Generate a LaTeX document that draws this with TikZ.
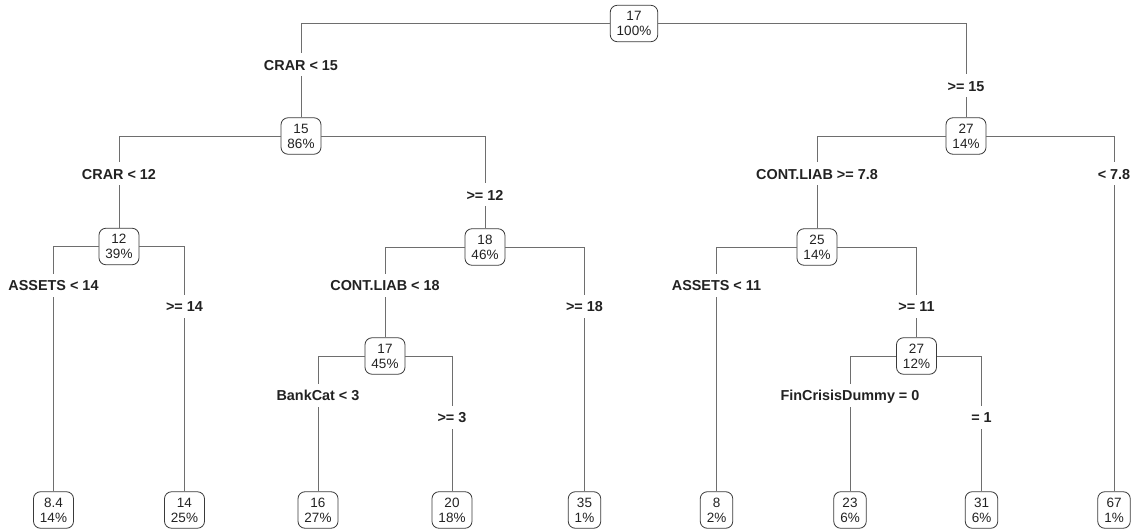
\documentclass[tikz,border=0pt]{standalone}
\usepackage{fontspec}
\setmainfont{Liberation Sans}
\definecolor{linecol}{HTML}{6E6E6E}
\definecolor{boxcol}{HTML}{3A3A3A}
\definecolor{txtcol}{HTML}{222222}
\begin{document}
\begin{tikzpicture}[x=1pt,y=-1pt,
  tnode/.style={draw=boxcol, line width=0.8pt, rounded corners=7pt, fill=white,
    align=center, text=txtcol, inner xsep=6.5pt, inner ysep=6pt,
    font=\fontsize{13.5}{15}\selectfont},
  edge/.style={draw=linecol, line width=0.8pt},
  lab/.style={fill=white, text=txtcol, inner xsep=1pt, inner ysep=0pt,
    text height=10.3pt, text depth=0pt, minimum height=23pt,
    font=\fontsize{14.4}{16}\selectfont\bfseries}]
\useasboundingbox (0,0) rectangle (1136,532);
% nodes
\node[tnode] (n1) at (634,23.5) {17\\100\%};
\node[tnode] (n2) at (301,136) {15\\86\%};
\node[tnode] (n3) at (966,136) {27\\14\%};
\node[tnode] (n4) at (119,246.5) {12\\39\%};
\node[tnode] (n5) at (485,247) {18\\46\%};
\node[tnode] (n6) at (817,247) {25\\14\%};
\node[tnode] (n10) at (385,356) {17\\45\%};
\node[tnode] (n13) at (916.5,356) {27\\12\%};
% leaves
\node[tnode] (n8) at (53.5,510) {8.4\\14\%};
\node[tnode] (n9) at (184.5,510) {14\\25\%};
\node[tnode] (n14) at (318,510) {16\\27\%};
\node[tnode] (n15) at (452,510) {20\\18\%};
\node[tnode] (n11) at (584.5,510) {35\\1\%};
\node[tnode] (n12) at (716.5,510) {8\\2\%};
\node[tnode] (n16) at (850,510) {23\\6\%};
\node[tnode] (n17) at (981.5,510) {31\\6\%};
\node[tnode] (n7) at (1114,510) {67\\1\%};
% edges
\begin{scope}[on background layer/.style={}]
\draw[edge] (n1.west) -| (n2.north);
\draw[edge] (n1.east) -| (n3.north);
\draw[edge] (n2.west) -| (n4.north);
\draw[edge] (n2.east) -| (n5.north);
\draw[edge] (n3.west) -| (n6.north);
\draw[edge] (n3.east) -| (n7.north);
\draw[edge] (n4.west) -| (n8.north);
\draw[edge] (n4.east) -| (n9.north);
\draw[edge] (n5.west) -| (n10.north);
\draw[edge] (n5.east) -| (n11.north);
\draw[edge] (n6.west) -| (n12.north);
\draw[edge] (n6.east) -| (n13.north);
\draw[edge] (n10.west) -| (n14.north);
\draw[edge] (n10.east) -| (n15.north);
\draw[edge] (n13.west) -| (n16.north);
\draw[edge] (n13.east) -| (n17.north);
\end{scope}
% labels
\node[lab] (l2) at (301,65) {CRAR < 15};
\node[lab] (l3) at (966,86) {>= 15};
\node[lab] (l4) at (119,174) {CRAR < 12};
\node[lab] (l5) at (485,195) {>= 12};
\node[lab] (l6) at (817,174) {CONT.LIAB >= 7.8};
\node[lab] (l7) at (1114,174) {< 7.8};
\node[lab] (l8) at (53.5,285) {ASSETS < 14};
\node[lab] (l9) at (184.5,306) {>= 14};
\node[lab] (l10) at (385,285) {CONT.LIAB < 18};
\node[lab] (l11) at (584.5,306) {>= 18};
\node[lab] (l12) at (716.5,285) {ASSETS < 11};
\node[lab] (l13) at (916.5,306) {>= 11};
\node[lab] (l14) at (318,395.5) {BankCat < 3};
\node[lab] (l15) at (452,417) {>= 3};
\node[lab] (l16) at (850,395.5) {FinCrisisDummy = 0};
\node[lab] (l17) at (981.5,417) {= 1};
\end{tikzpicture}
\end{document}
